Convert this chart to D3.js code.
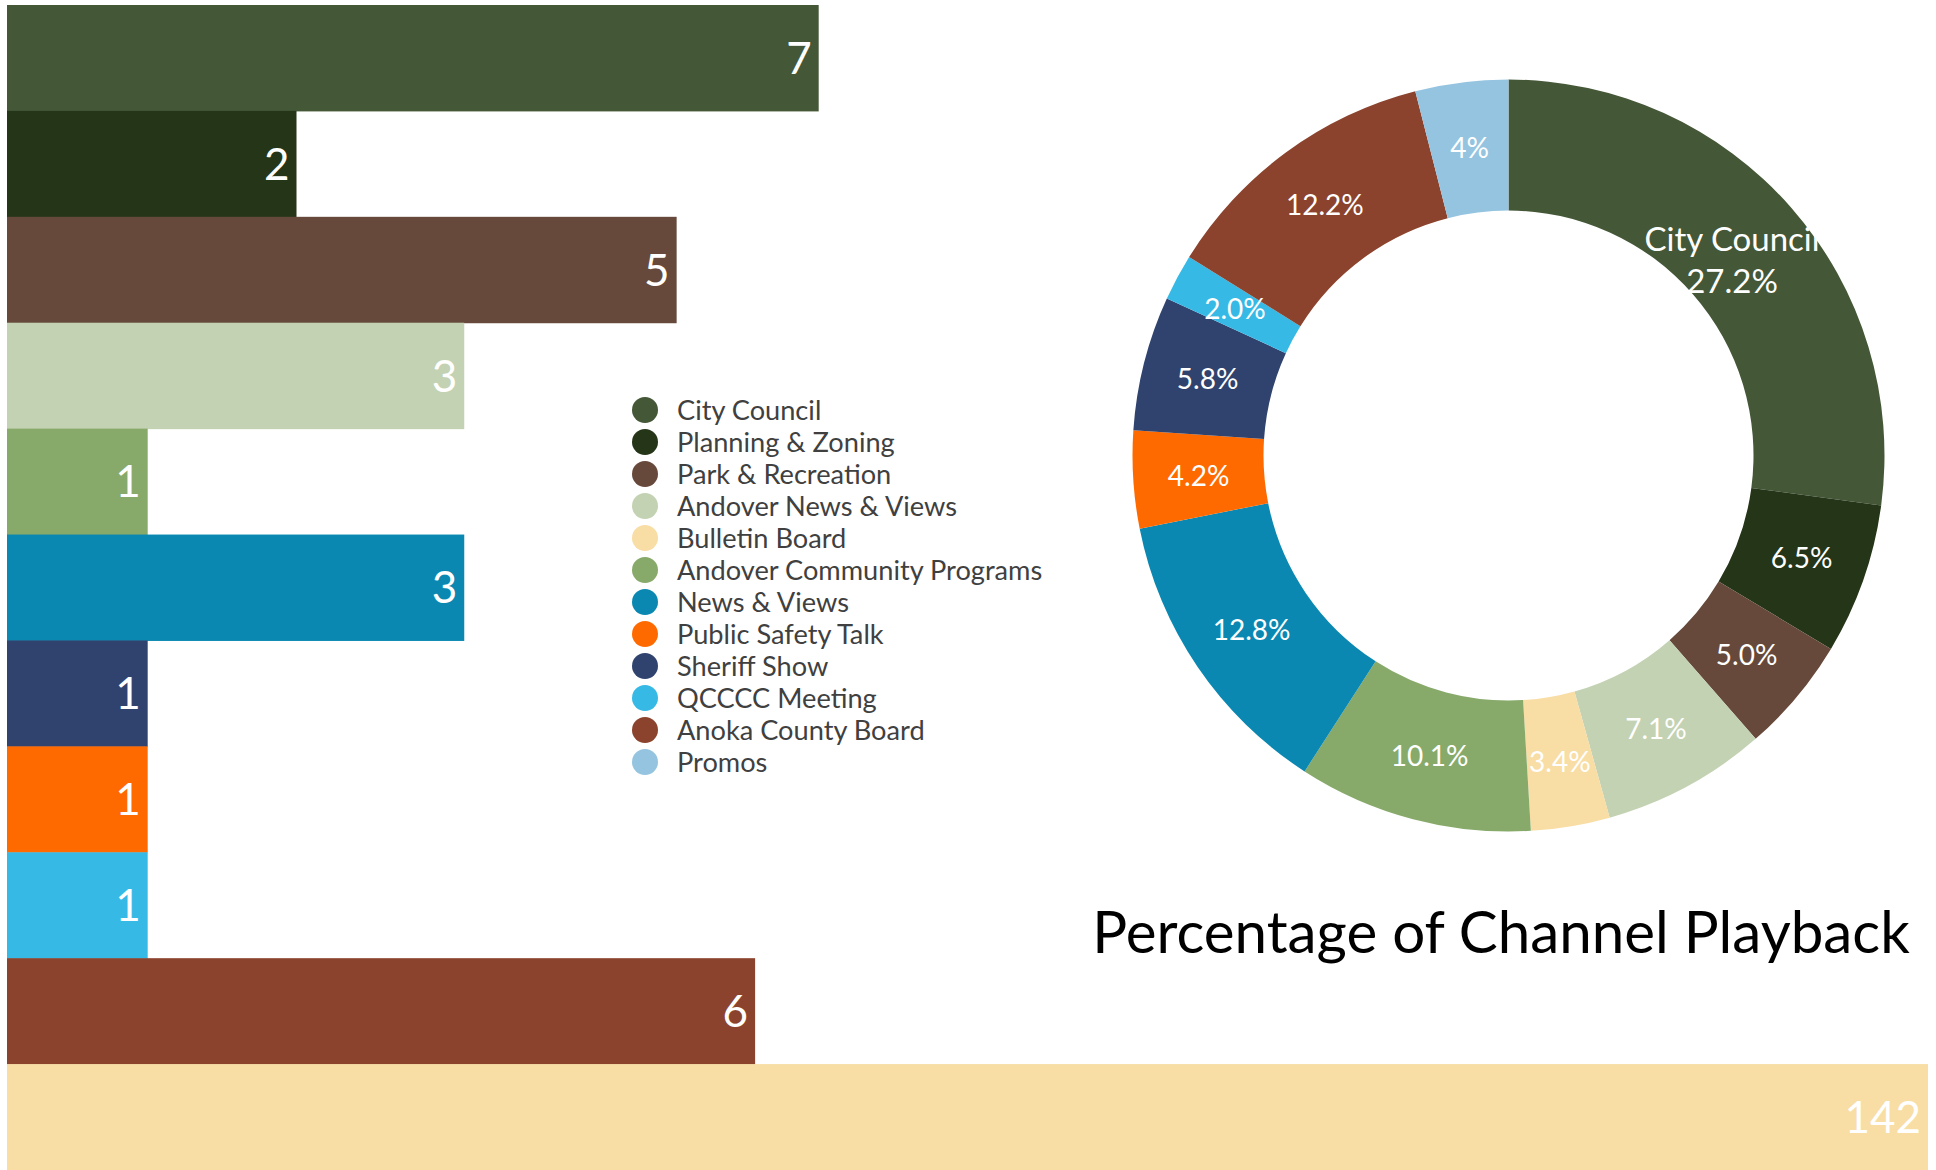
<!DOCTYPE html>
<html>
<head>
<meta charset="utf-8">
<script src="https://cdn.jsdelivr.net/npm/d3@7"></script>
<style>
  html, body { margin: 0; padding: 0; background: #ffffff; }
  svg { display: block; font-family: Lato, "Open Sans", sans-serif; }
</style>
</head>
<body>
<svg id="chart" width="1936" height="1170"></svg>
<script>
// ---------- DATA ----------
// Legend / pie categories (pie order, clockwise from 12 o'clock)
const categories = [
  "City Council", "Planning & Zoning", "Park & Recreation", "Andover News & Views",
  "Bulletin Board", "Andover Community Programs", "News & Views", "Public Safety Talk",
  "Sheriff Show", "QCCCC Meeting", "Anoka County Board", "Promos"
];
const categoryColors = [
  "#445737", "#243518", "#66493b", "#c3d2b3",
  "#f8dda5", "#87aa6a", "#0a88b2", "#ff6a00",
  "#30436e", "#37b9e6", "#8b432d", "#95c4e0"
];
// Pie: percentage of channel playback
const pieValues = [27.2, 6.5, 5.0, 7.1, 3.4, 10.1, 12.8, 4.2, 5.8, 2.0, 12.2, 4];
const pieLabels = [
  ["City Council", "27.2%"], ["6.5%"], ["5.0%"], ["7.1%"], ["3.4%"], ["10.1%"],
  ["12.8%"], ["4.2%"], ["5.8%"], ["2.0%"], ["12.2%"], ["4%"]
];
// Bars (top to bottom)
const barCategories = [
  "City Council", "Planning & Zoning", "Park & Recreation", "Andover News & Views",
  "Andover Community Programs", "News & Views", "Sheriff Show", "Public Safety Talk",
  "QCCCC Meeting", "Anoka County Board", "Bulletin Board"
];
const barCounts  = [7, 2, 5, 3, 1, 3, 1, 1, 1, 6, 142];          // printed value
const barLengths = [60.0, 21.4, 49.5, 33.8, 10.4, 33.8, 10.4, 10.4, 10.4, 55.3, 142]; // drawn length
const chartTitle = "Percentage of Channel Playback";

// ---------- DRAW ----------
const svg = d3.select("#chart");
const color = d3.scaleOrdinal().domain(categories).range(categoryColors);

// Bars
const y = d3.scaleBand().domain(barCategories).range([5, 1170]).padding(0);
const x = d3.scaleLinear().domain([0, d3.max(barLengths)]).range([7, 1928]);
const bars = barCategories.map((c, i) => ({ cat: c, count: barCounts[i], len: barLengths[i] }));

const barG = svg.append("g").attr("class", "bars");
barG.selectAll("rect").data(bars).join("rect")
  .attr("x", x(0))
  .attr("y", d => y(d.cat))
  .attr("width", d => x(d.len) - x(0))
  .attr("height", y.bandwidth() + 0.5)
  .attr("fill", d => color(d.cat));

barG.selectAll("text").data(bars).join("text")
  .attr("x", d => x(d.len) - 7)
  .attr("y", d => y(d.cat) + y.bandwidth() / 2)
  .attr("dy", "0.36em")
  .attr("text-anchor", "end")
  .attr("fill", "#ffffff")
  .attr("font-size", 44)
  .text(d => d.count);

// Legend
const legend = svg.append("g").attr("class", "legend").attr("transform", "translate(645,410)");
const li = legend.selectAll("g").data(categories).join("g")
  .attr("transform", (d, i) => `translate(0,${i * 32})`);
li.append("circle").attr("r", 13).attr("fill", d => color(d));
li.append("text")
  .attr("x", 32).attr("y", 0).attr("dy", "0.37em")
  .attr("font-size", 27.2).attr("fill", "#404040")
  .text(d => d);

// Donut
const cx = 1508.5, cy = 455.5, R = 376, r = 245;
const pie = d3.pie().sort(null).value(d => d.v);
const pieData = pie(categories.map((c, i) => ({ cat: c, v: pieValues[i], label: pieLabels[i] })));
const arc = d3.arc().innerRadius(r).outerRadius(R);
const labelArc = d3.arc().innerRadius(r).outerRadius(R);
const multiArc = d3.arc().innerRadius(297).outerRadius(297);

const donut = svg.append("g").attr("transform", `translate(${cx},${cy})`);
donut.selectAll("path").data(pieData).join("path")
  .attr("d", arc)
  .attr("fill", d => color(d.data.cat));

const lbl = donut.selectAll("text").data(pieData).join("text")
  .attr("transform", d => {
    const c = d.data.label.length > 1 ? multiArc.centroid(d) : labelArc.centroid(d);
    return `translate(${c[0]},${c[1]})`;
  })
  .attr("text-anchor", "middle")
  .attr("fill", "#ffffff")
  .attr("font-size", 28);
lbl.each(function(d) {
  const lines = d.data.label;
  const n = lines.length;
  const t = d3.select(this);
  lines.forEach((s, k) => {
    t.append("tspan")
      .attr("x", 0)
      .attr("y", (k - (n - 1) / 2) * 42)
      .attr("dy", "0.36em")
      .attr("font-size", n > 1 ? 33 : 28)
      .text(s);
  });
});

// Title
svg.append("text")
  .attr("x", 1501).attr("y", 953)
  .attr("text-anchor", "middle")
  .attr("font-size", 58.3)
  .attr("fill", "#000000")
  .text(chartTitle);
</script>
</body>
</html>
